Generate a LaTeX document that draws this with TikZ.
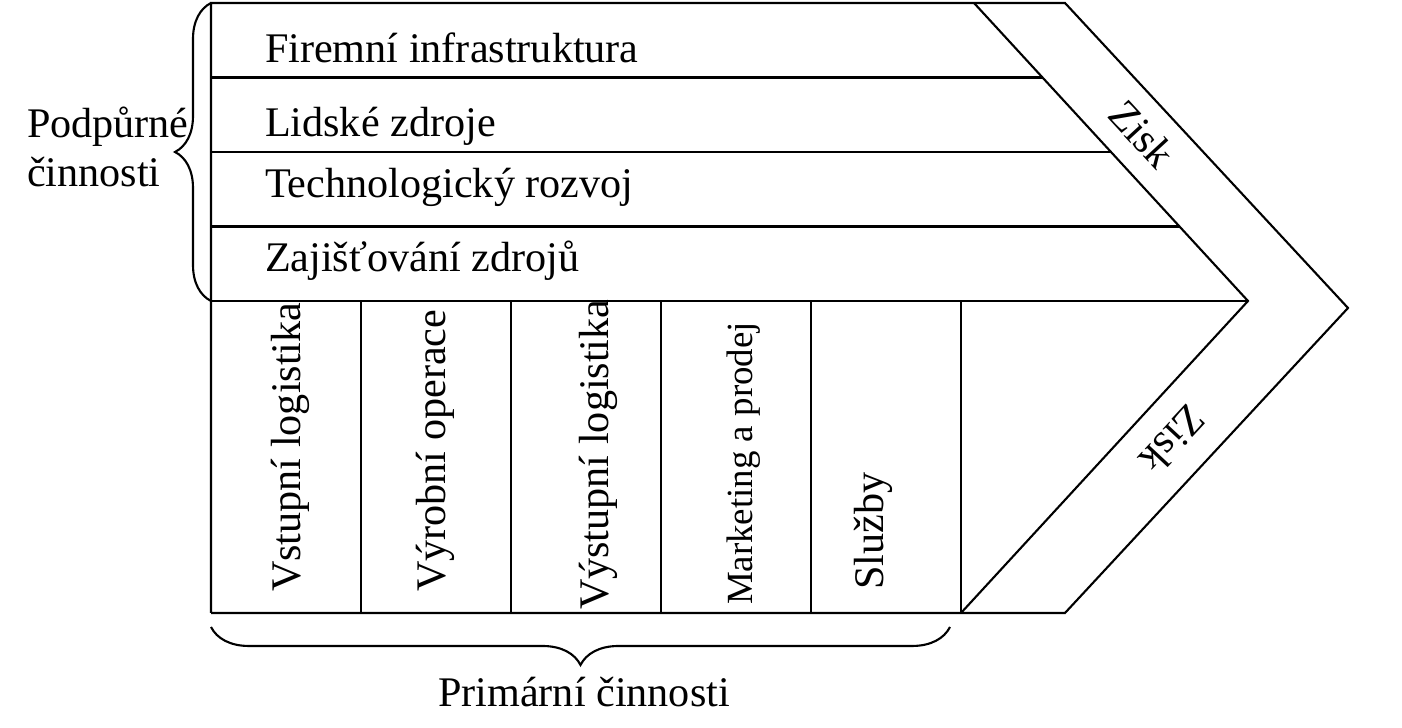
\documentclass[tikz,border=0pt]{standalone}
\usepackage{fontspec}
\setmainfont{Liberation Serif}
\usepackage{tikz}
\usetikzlibrary{calc,decorations.pathreplacing}

\begin{document}
\begin{tikzpicture}[
            semithick, % line style
            every node/.style={inner sep=0pt, outer sep=0pt},
            txt/.style={font=\fontsize{12}{14.2}\selectfont},
            vtxt/.style={txt, rotate=90, anchor=base west}, % primary activities
            brc/.style={decorate, decoration={brace, amplitude=#1}}
        ]
\useasboundingbox (0,0) rectangle (14.02,7.28);

% corner points of the chevron
\coordinate (TL) at (2.11,7.25);
\coordinate (BL) at (2.11,1.15);
\coordinate (IT) at (9.74,7.25);
\coordinate (IP) at (12.48,4.27);
\coordinate (IB) at (9.61,1.15);
\coordinate (OT) at (10.65,7.25);
\coordinate (OP) at (13.48,4.20);
\coordinate (OB) at (10.65,1.15);
\coordinate (ML) at (2.11,4.27);

\draw (BL) -- (TL) -- (OT) -- (OP) -- (OB) -- (BL);
\draw (IT) -- (IP) -- (IB);
\draw (ML) -- (IP);

% rows of the support activities
\foreach \p in {0.25,0.5,0.75}
  \draw ($(IT)!\p!(IP)$) -- ($(TL)!\p!(ML)$);

% columns of the primary activities
\foreach \x in {3.61,5.11,6.61,8.11,9.61}
  \draw (\x,4.27) -- (\x,1.15);

\node[txt, anchor=base west] (FI) at (2.65,6.65) {Firemní infrastruktura};
\node[txt, anchor=base west] (LZ) at (2.65,5.91) {Lidské zdroje};
\node[txt, anchor=base west] (TR) at (2.65,5.30) {Technologický rozvoj};
\node[txt, anchor=base west] (ZZ) at (2.65,4.56) {Zajišťování zdrojů};

\node[vtxt] (VL) at (3.00,1.36) {Vstupní logistika};
\node[vtxt] (VO) at (4.45,1.36) {Výrobní operace};
\node[vtxt] (VY) at (6.08,1.18) {Výstupní logistika};
\node[vtxt, font=\fontsize{10.5}{12.6}\selectfont] (MP) at (7.52,1.23) {Marketing a prodej};
\node[vtxt] (SL) at (8.83,1.38) {Služby};

\node[txt, rotate=-47.4] (Z1) at (11.42,5.94) {Zisk};
\node[txt, rotate=227.1] (Z2) at (11.73,2.88) {Zisk};

% braces
\draw[brc=0.36cm] (ML) -- (TL);
\node[txt, align=left, anchor=base west] (PC) at (0.27,5.41) {Podpůrné\\činnosti};

\coordinate (BR) at (9.50,1.01);
\coordinate (BB) at (2.11,1.01);
\draw[brc=0.38cm] (BR) -- (BB);
\node[txt, anchor=base] (PR) at (5.84,0.21) {Primární činnosti};
\end{tikzpicture}
\end{document}
